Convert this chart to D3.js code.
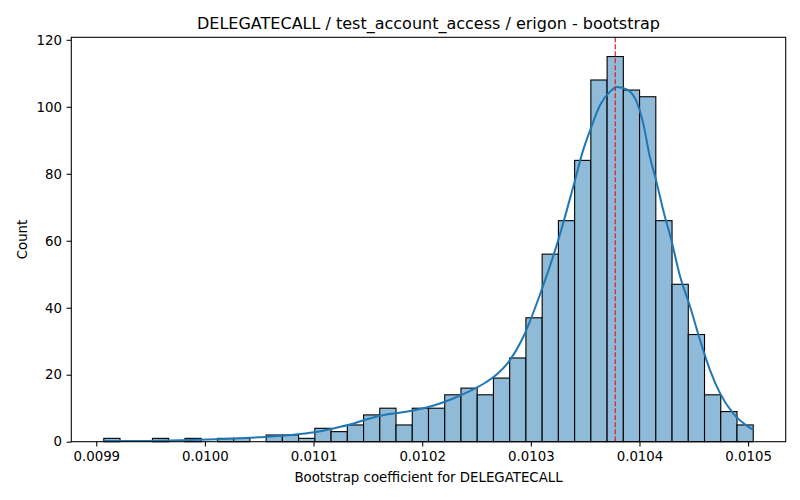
<!DOCTYPE html>
<html>
<head>
<meta charset="utf-8">
<script src="https://cdn.jsdelivr.net/npm/d3@7"></script>
<style>
  body { margin: 0; background: #fff; }
  text { font-family: "DejaVu Sans", sans-serif; }
</style>
</head>
<body>
<div id="chart"></div>
<script>
// Histogram: 40 equal bins between binStart and binEnd
const binStart = 0.0099069;
const binEnd = 0.0105047;
const binCounts = [
  1, 0, 0, 1, 0, 1, 0, 1, 1, 0,
  2, 2, 1, 4, 3, 5, 8, 10, 5, 10,
  10, 14, 16, 14, 19, 25, 37, 56, 66, 84,
  108, 115, 105, 103, 66, 47, 32, 14, 9, 5
];

// KDE curve (scaled to counts)
const kdeX = [
  0.0099069, 0.0099259, 0.0099571, 0.0099874, 0.0100177, 0.0100489, 0.0100792,
  0.0101004, 0.0101187, 0.0101343, 0.0101500, 0.0101646, 0.0101803, 0.0101959,
  0.0102106, 0.0102262, 0.0102418, 0.0102565, 0.0102693, 0.0102785, 0.0102932,
  0.0103088, 0.0103244, 0.0103391, 0.0103483, 0.0103547, 0.0103639, 0.0103731,
  0.0103795, 0.0103887, 0.0103979, 0.0104034, 0.0104098, 0.0104144, 0.0104218,
  0.0104300, 0.0104374, 0.0104466, 0.0104557, 0.0104649, 0.0104741, 0.0104860,
  0.0105047
];
const kdeY = [
  0.3, 0.2, 0.3, 0.5, 0.8, 1.3, 2.0,
  2.8, 4.0, 5.2, 6.8, 8.0, 8.7, 9.6,
  10.8, 12.6, 14.8, 17.3, 20.3, 23.4, 31.4,
  44.3, 59.3, 76.2, 87.2, 93.1, 100.6, 104.6,
  105.9, 105.1, 101.1, 95.1, 84.7, 79.2, 69.2,
  59.3, 49.3, 40.3, 30.4, 21.4, 14.5, 8.5,
  3.5
];

const refValue = 0.0103777;
const xTicks = [0.0099, 0.0100, 0.0101, 0.0102, 0.0103, 0.0104, 0.0105];
const yTicks = [0, 20, 40, 60, 80, 100, 120];

const titleText = "DELEGATECALL / test_account_access / erigon - bootstrap";
const xLabel = "Bootstrap coefficient for DELEGATECALL";
const yLabel = "Count";

const W = 800, H = 500;
const margin = { top: 37.3, right: 14.3, bottom: 58.3, left: 71.3 };
const width = W - margin.left - margin.right;
const height = H - margin.top - margin.bottom;

const svg = d3.select("#chart").append("svg")
    .attr("width", W)
    .attr("height", H);

const g = svg.append("g")
    .attr("transform", `translate(${margin.left},${margin.top})`);

// matplotlib-style 5% margins on x
const span = binEnd - binStart;
const x = d3.scaleLinear()
    .domain([binStart - span * 0.05, binEnd + span * 0.05])
    .range([0, width]);

const y = d3.scaleLinear()
    .domain([0, d3.max(binCounts) * 1.05])
    .range([height, 0]);

const binW = span / binCounts.length;
const bins = binCounts.map((c, i) => ({
    x0: binStart + i * binW,
    x1: binStart + (i + 1) * binW,
    count: c
}));

// bars
g.selectAll(".bar")
    .data(bins)
    .enter()
    .append("rect")
    .attr("class", "bar")
    .attr("x", d => x(d.x0))
    .attr("width", d => x(d.x1) - x(d.x0))
    .attr("y", d => y(d.count))
    .attr("height", d => y(0) - y(d.count))
    .attr("fill", "#8fbbd9")
    .attr("stroke", "#000")
    .attr("stroke-width", 1.1);

// kde line
const kde = kdeX.map((v, i) => [v, kdeY[i]]);
g.append("path")
    .datum(kde)
    .attr("fill", "none")
    .attr("stroke", "#1f77b4")
    .attr("stroke-width", 2)
    .attr("d", d3.line()
        .x(d => x(d[0]))
        .y(d => y(d[1]))
        .curve(d3.curveMonotoneX));

// reference line
g.append("line")
    .attr("x1", x(refValue))
    .attr("x2", x(refValue))
    .attr("y1", 0)
    .attr("y2", height)
    .attr("stroke", "#e8191c")
    .attr("stroke-width", 1.2)
    .attr("stroke-dasharray", "4.9,2.1");

// axes
const xAxis = g.append("g")
    .attr("transform", `translate(0,${height})`)
    .call(d3.axisBottom(x)
        .tickValues(xTicks)
        .tickFormat(d3.format(".4f"))
        .tickSize(4.7)
        .tickPadding(4.7)
        .tickSizeOuter(0));

const yAxis = g.append("g")
    .call(d3.axisLeft(y)
        .tickValues(yTicks)
        .tickFormat(d3.format("d"))
        .tickSize(4.7)
        .tickPadding(4.7)
        .tickSizeOuter(0));

[xAxis, yAxis].forEach(a => {
    a.select(".domain").remove();
    a.selectAll("line").attr("stroke", "#000").attr("stroke-width", 1.07);
    a.selectAll("text")
        .style("font-family", "DejaVu Sans")
        .style("font-size", "13.33px")
        .attr("fill", "#000");
});

// frame
g.append("rect")
    .attr("x", 0)
    .attr("y", 0)
    .attr("width", width)
    .attr("height", height)
    .attr("fill", "none")
    .attr("stroke", "#000")
    .attr("stroke-width", 1.07);

// title and labels
svg.append("text")
    .attr("x", margin.left + width / 2)
    .attr("y", 29)
    .attr("text-anchor", "middle")
    .style("font-size", "16px")
    .text(titleText);

svg.append("text")
    .attr("x", margin.left + width / 2)
    .attr("y", 482)
    .attr("text-anchor", "middle")
    .style("font-size", "13.33px")
    .text(xLabel);

svg.append("text")
    .attr("transform", `translate(27,${margin.top + height / 2}) rotate(-90)`)
    .attr("text-anchor", "middle")
    .style("font-size", "13.33px")
    .text(yLabel);
</script>
</body>
</html>
